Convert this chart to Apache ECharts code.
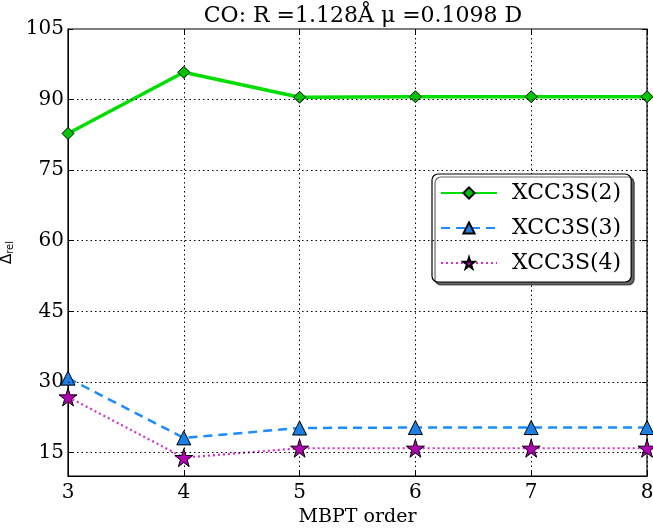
<!DOCTYPE html>
<html><head><meta charset="utf-8">
<script src="https://cdn.jsdelivr.net/npm/echarts@6/dist/echarts.min.js"></script>
<style>html,body{margin:0;padding:0;background:#fff}#c{width:653px;height:529px}</style>
</head><body><div id="c"></div>
<script>
const orders = [3, 4, 5, 6, 7, 8];
const xcc2 = [82.8, 95.8, 90.5, 90.6, 90.6, 90.6];
const xcc3 = [30.8, 18.1, 20.2, 20.3, 20.3, 20.3];
const xcc4 = [26.8, 13.9, 15.9, 15.9, 15.9, 15.9];
const yTicks = [15, 30, 45, 60, 75, 90, 105];
const seriesNames = ['XCC3S(2)', 'XCC3S(3)', 'XCC3S(4)'];
const titleText = 'CO: R =1.128Å μ =0.1098 D';

const serif = '"DejaVu Serif", "Liberation Serif", serif';
const star = 'path://M50,0 L61,35 L98,35 L68,57 L79,91 L50,70 L21,91 L32,57 L2,35 L39,35 Z';
const pair = (xs, ys) => xs.map((x, i) => [x, ys[i]]);

const chart = echarts.init(document.getElementById('c'));
chart.setOption({
  animation: false,
  title: {text: titleText, left: 358, textAlign: 'center', top: 0,
    textStyle: {fontFamily: serif, fontSize: 22, fontWeight: 'normal', color: '#000'}},
  grid: {left: 68, right: 6, top: 29, bottom: 53, show: true, borderColor: '#000', borderWidth: 1.2,
    containLabel: false, outerBoundsMode: 'none'},
  legend: {
    orient: 'vertical', left: 432, top: 174, width: 199,
    padding: [8, 10, 8, 8], itemGap: 13, itemWidth: 56, itemHeight: 14,
    backgroundColor: '#fff', borderColor: '#000', borderWidth: 1.2, borderRadius: 6,
    shadowColor: 'rgba(0,0,0,0.6)', shadowOffsetX: 3, shadowOffsetY: 3, shadowBlur: 0,
    textStyle: {fontFamily: serif, fontSize: 22, color: '#000', padding: [0, 0, 0, 10]},
    data: seriesNames
  },
  xAxis: [{
    type: 'value', min: 3, max: 8, interval: 1,
    name: 'MBPT order', nameLocation: 'middle', nameGap: 27,
    nameTextStyle: {fontFamily: serif, fontSize: 19, color: '#000'},
    axisLine: {lineStyle: {color: '#000'}},
    axisTick: {inside: true, length: 5, lineStyle: {color: '#000'}},
    axisLabel: {fontFamily: serif, fontSize: 20, color: '#000', margin: 7},
    splitLine: {show: true, lineStyle: {color: '#000', type: [1.5, 3], width: 1}}
  }, {
    type: 'value', min: 3, max: 8, interval: 1, position: 'top',
    axisLine: {show: false}, axisLabel: {show: false}, splitLine: {show: false},
    axisTick: {inside: true, length: 5, lineStyle: {color: '#000'}}
  }],
  yAxis: [{
    type: 'value', min: 10, max: 105,
    name: '{a|Δ}{b|rel}', nameLocation: 'middle', nameGap: 46,
    nameTextStyle: {rich: {a: {fontFamily: '"DejaVu Sans", sans-serif', fontSize: 15, color: '#000'},
      b: {fontFamily: '"DejaVu Sans", sans-serif', fontSize: 10, color: '#000', verticalAlign: 'bottom', padding: [6, 0, 0, 0]}}},
    axisLine: {lineStyle: {color: '#000'}},
    axisTick: {inside: true, length: 5, customValues: yTicks, lineStyle: {color: '#000'}},
    axisLabel: {fontFamily: serif, fontSize: 20, color: '#000', margin: 4, customValues: yTicks},
    splitLine: {show: false}
  }, {
    type: 'value', min: 10, max: 105, position: 'right',
    axisLine: {show: false}, axisLabel: {show: false}, splitLine: {show: false},
    axisTick: {inside: true, length: 5, customValues: yTicks, lineStyle: {color: '#000'}}
  }],
  series: [
    {type: 'line', name: '_grid', data: [], z: 0, silent: true,
      markLine: {silent: true, symbol: 'none', label: {show: false},
        lineStyle: {color: '#000', type: [1.5, 3], width: 1},
        data: yTicks.filter(v => v < 105).map(v => ({yAxis: v}))}},
    {type: 'line', name: seriesNames[0], data: pair(orders, xcc2),
      symbol: 'diamond', symbolSize: 12,
      lineStyle: {color: '#00dd00', width: 3.5},
      itemStyle: {color: '#00c400', borderColor: '#000', borderWidth: 1}},
    {type: 'line', name: seriesNames[1], data: pair(orders, xcc3),
      symbol: 'triangle', symbolSize: 14,
      lineStyle: {color: '#1a8cff', width: 2.5, type: [9, 6]},
      itemStyle: {color: '#1a80e6', borderColor: '#000', borderWidth: 1}},
    {type: 'line', name: seriesNames[2], data: pair(orders, xcc4),
      symbol: star, symbolSize: 18,
      lineStyle: {color: '#d030d0', width: 2.2, type: [2, 3]},
      itemStyle: {color: '#b400b4', borderColor: '#000', borderWidth: 1}}
  ]
});
</script></body></html>
